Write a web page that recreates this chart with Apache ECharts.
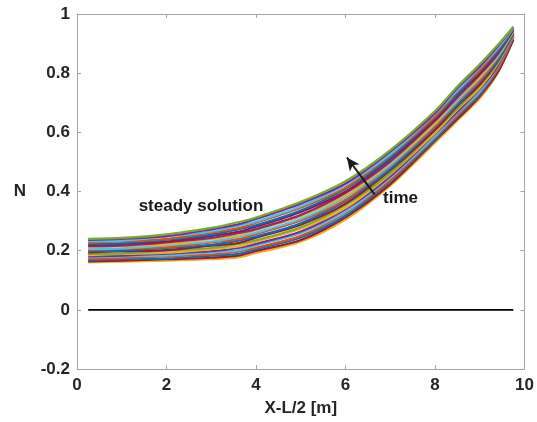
<!DOCTYPE html>
<html><head><meta charset="utf-8">
<script src="https://cdn.jsdelivr.net/npm/echarts@6/dist/echarts.min.js"></script>
<style>html,body{margin:0;padding:0;background:#fff}#c{width:537px;height:422px}</style>
</head><body><div id="c"></div>
<script>
const xs = [0.25, 1, 2, 3, 3.6, 4, 5, 6, 7, 8, 8.5, 9, 9.4, 9.75];
const line00 = [0.160,0.163,0.166,0.171,0.177,0.192,0.230,0.305,0.420,0.565,0.640,0.715,0.800,0.918];
const line01 = [0.164,0.166,0.171,0.176,0.183,0.199,0.236,0.313,0.425,0.572,0.645,0.722,0.803,0.913];
const line02 = [0.168,0.172,0.174,0.183,0.189,0.205,0.245,0.318,0.434,0.575,0.653,0.726,0.811,0.922];
const line03 = [0.173,0.175,0.181,0.187,0.197,0.210,0.250,0.327,0.438,0.583,0.657,0.734,0.814,0.924];
const line04 = [0.177,0.181,0.184,0.194,0.201,0.218,0.259,0.331,0.447,0.587,0.665,0.738,0.821,0.926];
const line05 = [0.181,0.183,0.190,0.198,0.209,0.223,0.265,0.340,0.451,0.595,0.669,0.746,0.824,0.928];
const line06 = [0.185,0.189,0.193,0.205,0.214,0.231,0.274,0.345,0.459,0.598,0.677,0.750,0.831,0.930];
const line07 = [0.189,0.191,0.200,0.209,0.222,0.235,0.279,0.354,0.463,0.606,0.681,0.758,0.834,0.932];
const line08 = [0.194,0.198,0.202,0.217,0.226,0.244,0.288,0.359,0.472,0.609,0.689,0.762,0.841,0.934];
const line09 = [0.198,0.200,0.209,0.220,0.234,0.248,0.293,0.368,0.476,0.617,0.693,0.770,0.844,0.936];
const line10 = [0.202,0.206,0.212,0.228,0.239,0.256,0.302,0.372,0.485,0.620,0.701,0.774,0.851,0.939];
const line11 = [0.206,0.208,0.218,0.231,0.247,0.261,0.307,0.381,0.489,0.628,0.706,0.783,0.854,0.941];
const line12 = [0.211,0.215,0.221,0.239,0.251,0.269,0.316,0.386,0.497,0.632,0.714,0.787,0.861,0.943];
const line13 = [0.215,0.217,0.228,0.243,0.259,0.273,0.321,0.395,0.501,0.639,0.718,0.795,0.864,0.945];
const line14 = [0.219,0.223,0.231,0.250,0.264,0.281,0.331,0.400,0.509,0.643,0.726,0.799,0.871,0.947];
const line15 = [0.223,0.225,0.237,0.254,0.272,0.286,0.336,0.409,0.514,0.650,0.730,0.807,0.874,0.949];
const line16 = [0.227,0.231,0.240,0.261,0.276,0.294,0.345,0.413,0.522,0.654,0.738,0.811,0.881,0.951];
const line17 = [0.232,0.234,0.247,0.265,0.284,0.298,0.350,0.422,0.526,0.662,0.742,0.819,0.884,0.953];
const line18 = [0.236,0.240,0.249,0.272,0.289,0.307,0.359,0.427,0.535,0.665,0.750,0.823,0.891,0.955];
const line19 = [0.240,0.243,0.255,0.277,0.296,0.312,0.365,0.435,0.540,0.672,0.755,0.830,0.895,0.957];
const lines = [line00,line01,line02,line03,line04,line05,line06,line07,line08,line09,
               line10,line11,line12,line13,line14,line15,line16,line17,line18,line19];
const zeroX = [0.25, 9.75];
const zeroY = [0, 0];
const colors = ['#EDB120','#A2142F','#0072BD','#D95319','#4DBEEE','#7E2F8E','#EDB120','#77AC30',
                '#A2142F','#0072BD','#D95319','#4DBEEE','#EDB120','#7E2F8E','#A2142F','#0072BD',
                '#D95319','#4DBEEE','#7E2F8E','#77AC30'];

const FONT = 'Liberation Sans, Arial, sans-serif';
const chart = echarts.init(document.getElementById('c'), null, {renderer:'canvas'});
const axisLine = {show:true, onZero:false, lineStyle:{color:'#a6a6a6', width:1}};
const tick = {show:true, inside:true, length:4, lineStyle:{color:'#a6a6a6'}};
const lbl = {color:'#262626', fontWeight:'bold', fontSize:17, fontFamily:FONT};
const series = lines.map((ys,i)=>({
  type:'line', xAxisIndex:0, yAxisIndex:0, showSymbol:false, symbol:'none', smooth:0.3,
  lineStyle:{color:colors[i%colors.length], width:2.2}, animation:false, z:2,
  data: xs.map((x,j)=>[x, ys[j]])
}));
series.push({
  type:'line', showSymbol:false, symbol:'none', animation:false, z:3,
  lineStyle:{color:'#000', width:1.8},
  data: zeroX.map((x,j)=>[x, zeroY[j]]),
  markLine:{silent:true, animation:false, symbolSize:[9,13], label:{show:false},
    lineStyle:{color:'#1a1a1a', width:2, type:'solid'},
    data:[[{coord:[6.65,0.39], symbol:'none'},{coord:[6.03,0.515], symbol:'arrow'}]]}
});
chart.setOption({
  animation:false,
  grid:{left:77, right:9, top:14, bottom:52},
  xAxis:[{type:'value', min:0, max:10, interval:2, axisLine, axisTick:tick, splitLine:{show:false},
    axisLabel:{...lbl, margin:8}, name:'X-L/2 [m]', nameLocation:'middle', nameGap:31,
    nameTextStyle:{...lbl}},
   {type:'value', position:'top', min:0, max:10, interval:2, axisLine, axisTick:tick, axisLabel:{show:false}, splitLine:{show:false}}],
  yAxis:[{type:'value', min:-0.2, max:1, interval:0.2, axisLine, axisTick:tick, splitLine:{show:false},
    axisLabel:{...lbl, margin:7, formatter:v=>{const r=Math.round(v*10)/10; return String(r);}},
    name:'N', nameLocation:'middle', nameRotate:0, nameGap:51, nameTextStyle:{...lbl}},
   {type:'value', position:'right', min:-0.2, max:1, interval:0.2, axisLine, axisTick:tick, axisLabel:{show:false}, splitLine:{show:false}}],
  series
});
const p1 = chart.convertToPixel({xAxisIndex:0,yAxisIndex:0},[2.77,0.35]);
const p2 = chart.convertToPixel({xAxisIndex:0,yAxisIndex:0},[7.23,0.377]);
chart.setOption({graphic:[
  {type:'text', x:p1[0], y:p1[1], z:10, style:{text:'steady solution', font:'bold 17px '+FONT, fill:'#1a1a1a', textAlign:'center', textVerticalAlign:'middle'}},
  {type:'text', x:p2[0], y:p2[1], z:10, style:{text:'time', font:'bold 17px '+FONT, fill:'#1a1a1a', textAlign:'center', textVerticalAlign:'middle'}}
]});
</script></body></html>
